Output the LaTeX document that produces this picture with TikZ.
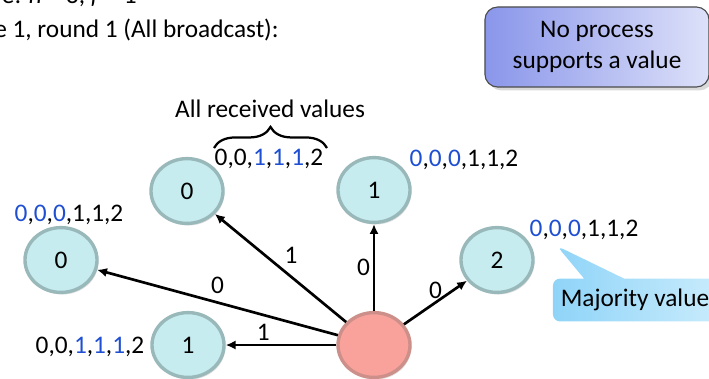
\documentclass[tikz,border=0pt]{standalone}
\usepackage{fontspec}
\setmainfont{Carlito}
\usetikzlibrary{arrows.meta,shapes.geometric,shapes.callouts,decorations.pathreplacing,shadows}
\definecolor{procfill}{HTML}{C6ECEF}
\definecolor{procrim}{HTML}{98B8BA}
\definecolor{srcfill}{HTML}{F8A29B}
\definecolor{srcrim}{HTML}{CC8F89}
\definecolor{valblue}{HTML}{1E4FD2}
\definecolor{noteA}{HTML}{8A96EA}
\definecolor{noteB}{HTML}{DDE1F9}
\definecolor{majA}{HTML}{8FD4F8}
\definecolor{majB}{HTML}{C8EBFC}
\newcommand{\bv}[1]{\textcolor{valblue}{#1}}

\begin{document}
\begin{tikzpicture}[x=0.025cm, y=-0.025cm, font=\fontsize{18}{21.5}\selectfont,
    proc/.style={ellipse, draw=procrim, line width=2.4pt, fill=procfill, minimum width=1.8cm, minimum height=1.62cm, inner sep=0pt,
        drop shadow={opacity=0.25, shadow xshift=1pt, shadow yshift=-1.5pt}},
    src/.style={proc, draw=srcrim, fill=srcfill},
    msg/.style={-{Latex[length=7pt,width=6.5pt]}, line width=1.9pt},
    elbl/.style={inner sep=2pt}]
    \clip (0,0) rectangle (709,378);
    % heading
    \node[anchor=base east, inner sep=0pt] (title) at (137,3) {Example: \textit{n} = 3, \textit{f} = 1};
    \node[anchor=base east, inner sep=0pt] (round) at (279,37) {Phase 1, round 1 (All broadcast):};
    \node[rounded corners=9pt, draw=black!70, line width=0.8pt, left color=noteA, right color=noteB,
        drop shadow={opacity=0.3}, minimum width=5.6cm, minimum height=2cm, align=center] (nosup) at (597,47)
        {No process\\supports a value};
    % processes
    \node[proc] (0a) at (187,191) {0};
    \node[proc] (1a) at (374,190) {1};
    \node[proc] (0b) at (61,260) {0};
    \node[proc] (2) at (497,260) {2};
    \node[proc] (1b) at (188,345) {1};
    \node[src] (s) at (374,345) {};
        \draw[msg] (s) -- (1a) node[elbl, pos=0.5, left] {0};
        \draw[msg] (s) -- (0a) node[elbl, pos=0.5, above right] {1};
        \draw[msg] (s) -- (0b) node[elbl, pos=0.5, above, yshift=3pt] {0};
        \draw[msg] (s) -- (1b) node[elbl, pos=0.66, above] {1};
        \draw[msg] (s) -- (2) node[elbl, pos=0.5, above] {0};
    % received values
    \node (v0a) at (269,159) {0,0,\bv{1},\bv{1},\bv{1},2};
    \node (v1a) at (464,160) {\bv{0},\bv{0},\bv{0},1,1,2};
    \node (v0b) at (69,215) {\bv{0},\bv{0},\bv{0},1,1,2};
    \node (v2) at (584,230) {\bv{0},\bv{0},\bv{0},1,1,2};
    \node (v1b) at (90,347) {0,0,\bv{1},\bv{1},\bv{1},2};
    \coordinate (bl) at (214,148);
    \coordinate (br) at (327,148);
        \draw[decorate, decoration={brace, amplitude=15pt, aspect=0.5}, line width=1.6pt] (bl) -- (br);
    \node (allrec) at (270,109) {All received values};
    % majority callout
    \coordinate (majtip) at (557,246);
    \node[rectangle callout, callout absolute pointer={(majtip)}, callout pointer width=1cm,
        rounded corners=5pt, left color=majA, right color=majB, minimum width=4.1cm, minimum height=1.07cm] (maj) at (635,300)
        {Majority value};
\end{tikzpicture}
\end{document}
